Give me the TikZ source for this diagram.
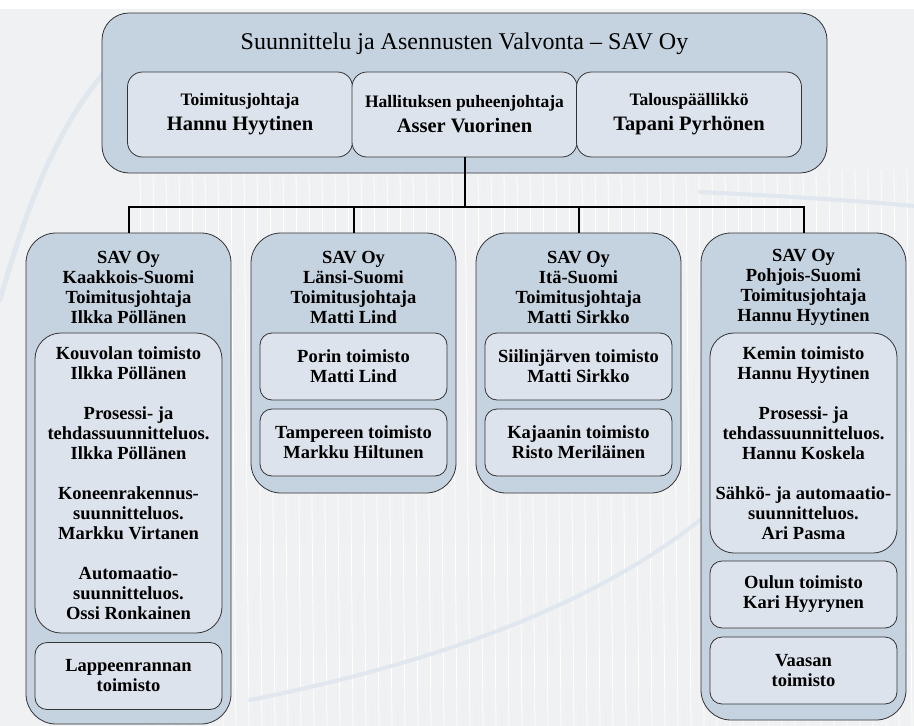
\documentclass[tikz,border=0pt]{standalone}
\usepackage{fontspec}
\setmainfont{Liberation Serif}
\usetikzlibrary{calc, positioning}

\definecolor{outerblue}{RGB}{197,210,223}
\definecolor{innerblue}{RGB}{221,227,236}
\definecolor{paper}{RGB}{240,241,242}
\definecolor{swoosh}{RGB}{224,231,239}

\newcommand{\titlefont}{\fontsize{24}{28}\selectfont}
\newcommand{\rolefont}{\fontsize{17.5}{25}\selectfont\bfseries}
\newcommand{\namefont}{\fontsize{20.5}{25}\selectfont\bfseries}
\newcommand{\colfont}{\fontsize{18.5}{20}\selectfont\bfseries}

\begin{document}
\begin{tikzpicture}[x=1pt, y=-1pt,
  outerbox/.style={draw=black!80, line width=0.8pt, fill=outerblue, inner sep=0pt},
  topbox/.style={draw=black!80, line width=0.8pt, fill=innerblue, inner sep=0pt, align=center,
    font=\rolefont, rounded corners=15pt, minimum width=225pt, minimum height=85pt},
  innerbox/.style={draw=black!80, line width=0.8pt, fill=innerblue, inner sep=0pt, align=center,
    font=\colfont, rounded corners=12pt, minimum width=187pt, minimum height=67pt},
  headtext/.style={align=center, font=\colfont, inner sep=0pt},
  conn/.style={line width=2pt}]
  \useasboundingbox (0,0) rectangle (914,726);
  % background
  \fill[white] (0,0) rectangle (914,726);
  \fill[paper] (0,9) rectangle (914,726);
  \foreach \x in {140,153,...,910} {\draw[white, line width=0.8pt] (\x,170) -- (\x+5,726);}
  \foreach \x in {146,159,...,910} {\draw[black!6, line width=0.4pt] (\x,170) -- (\x+5,726);}
  \draw[swoosh, line width=5pt, line cap=round] (0,300) .. controls (40,160) and (80,80) .. (160,20);
  \draw[swoosh, line width=4pt, line cap=round] (700,192) .. controls (780,196) and (850,200) .. (914,206);
  \draw[swoosh, line width=4pt, line cap=round] (250,700) .. controls (450,660) and (600,600) .. (700,520);

  % main box
  \node[outerbox, rounded corners=27pt, minimum width=725pt, minimum height=160pt] (sav) at (464.5,93) {};
  \node[font=\titlefont] (title) at (464.5,44) {Suunnittelu ja Asennusten Valvonta -- SAV Oy};
  \node[topbox] (ceo) at (240,114.5) {Toimitusjohtaja\\{\namefont Hannu Hyytinen}};
  \node[topbox] (chair) at (464.5,114.5) {Hallituksen puheenjohtaja\\{\namefont Asser Vuorinen}};
  \node[topbox] (cfo) at (689,114.5) {Talouspäällikkö\\{\namefont Tapani Pyrhönen}};

  % regional companies
  \node[outerbox, rounded corners=30pt, minimum width=205pt, minimum height=491pt] (col1) at (128.5,478.5) {};
  \node[outerbox, rounded corners=30pt, minimum width=205pt, minimum height=260pt] (col2) at (353.5,363) {};
  \node[outerbox, rounded corners=30pt, minimum width=205pt, minimum height=260pt] (col3) at (578.5,363) {};
  \node[outerbox, rounded corners=30pt, minimum width=205pt, minimum height=487pt] (col4) at (803.5,476.5) {};

  \node[headtext] (col1h) at (128.5,287) {SAV Oy\\Kaakkois-Suomi\\Toimitusjohtaja\\Ilkka Pöllänen};
  \node[headtext] (col2h) at (353.5,287) {SAV Oy\\Länsi-Suomi\\Toimitusjohtaja\\Matti Lind};
  \node[headtext] (col3h) at (578.5,287) {SAV Oy\\Itä-Suomi\\Toimitusjohtaja\\Matti Sirkko};
  \node[headtext] (col4h) at (803.5,287) {SAV Oy\\Pohjois-Suomi\\Toimitusjohtaja\\Hannu Hyytinen};

  % offices
  \node[innerbox, rounded corners=26pt, minimum height=300pt] (kouvola) at (128.5,483)
    {Kouvolan toimisto\\Ilkka Pöllänen\\[20pt]
     Prosessi- ja\\tehdassuunnitteluos.\\Ilkka Pöllänen\\[20pt]
     Koneenrakennus-\\suunnitteluos.\\Markku Virtanen\\[20pt]
     Automaatio-\\suunnitteluos.\\Ossi Ronkainen};
  \node[innerbox] (lappeenranta) at (128.5,676) {Lappeenrannan\\toimisto};

  \node[innerbox] (pori) at (353.5,366.5) {Porin toimisto\\Matti Lind};
  \node[innerbox] (tampere) at (353.5,442.5) {Tampereen toimisto\\Markku Hiltunen};

  \node[innerbox] (siilinjarvi) at (578.5,366.5) {Siilinjärven toimisto\\Matti Sirkko};
  \node[innerbox] (kajaani) at (578.5,442.5) {Kajaanin toimisto\\Risto Meriläinen};

  \node[innerbox, rounded corners=24pt, minimum height=220pt] (kemi) at (803.5,443)
    {Kemin toimisto\\Hannu Hyytinen\\[20pt]
     Prosessi- ja\\tehdassuunnitteluos.\\Hannu Koskela\\[20pt]
     Sähkö- ja automaatio-\\suunnitteluos.\\Ari Pasma};
  \node[innerbox] (oulu) at (803.5,594.5) {Oulun toimisto\\Kari Hyyrynen};
  \node[innerbox] (vaasa) at (803.5,670.5) {Vaasan\\toimisto};

  % connectors
  \coordinate (bus) at ($(chair.south)+(0,50)$);
  \draw[conn] (chair.south) -- (bus);
  \foreach \c in {col1,col2,col3,col4} {\draw[conn] (bus) -| (\c.north);}
\end{tikzpicture}
\end{document}
